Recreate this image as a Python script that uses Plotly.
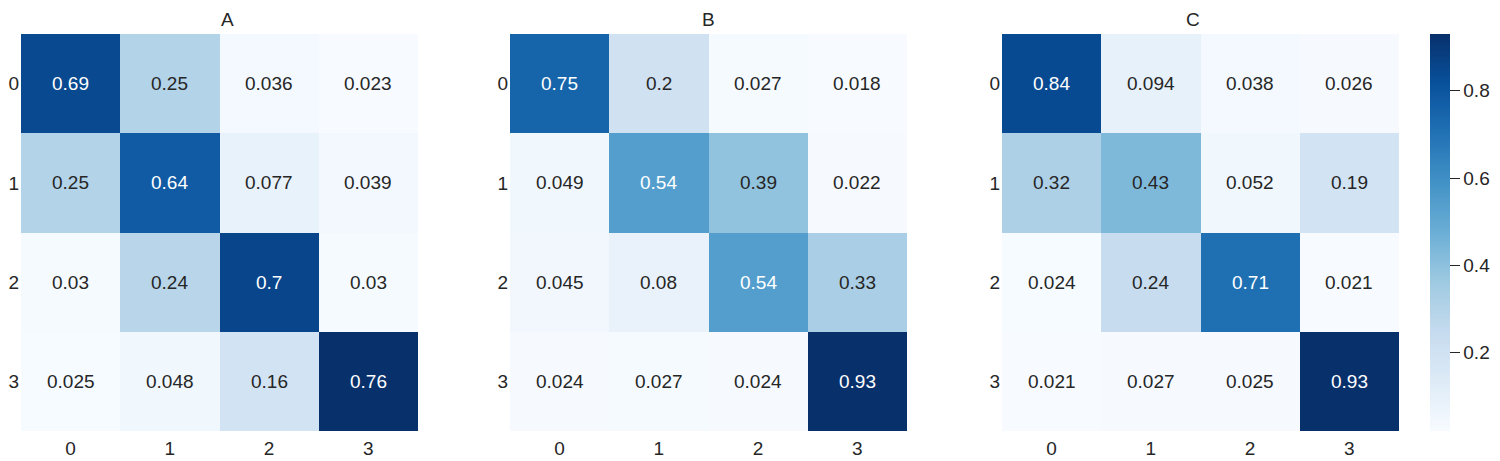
import plotly.graph_objects as go

# confusion-matrix style values, one 4x4 grid per panel
labels = ["0", "1", "2", "3"]
titles = ["A", "B", "C"]

values_a = [[0.69, 0.25, 0.036, 0.023],
            [0.25, 0.64, 0.077, 0.039],
            [0.03, 0.24, 0.7, 0.03],
            [0.025, 0.048, 0.16, 0.76]]
values_b = [[0.75, 0.2, 0.027, 0.018],
            [0.049, 0.54, 0.39, 0.022],
            [0.045, 0.08, 0.54, 0.33],
            [0.024, 0.027, 0.024, 0.93]]
values_c = [[0.84, 0.094, 0.038, 0.026],
            [0.32, 0.43, 0.052, 0.19],
            [0.024, 0.24, 0.71, 0.021],
            [0.021, 0.027, 0.025, 0.93]]
colorbar_ticks = [0.2, 0.4, 0.6, 0.8]

# matplotlib "Blues"
blues = ["#f7fbff", "#deebf7", "#c6dbef", "#9ecae1", "#6baed6",
         "#4292c6", "#2171b5", "#08519c", "#08306b"]
colorscale = [[i / (len(blues) - 1), c] for i, c in enumerate(blues)]

font_family = "Liberation Sans, Arial, sans-serif"
dark = "#262626"
# page body has an 8px margin, so the figure is shifted by that much
off = 8
W, H = 1500 - off, 461 - off
x_pix = [(21, 418), (510, 907), (1002, 1399)]
y_top, y_bot = 34, 431
y_dom = [1 - (y_bot - off) / H, 1 - (y_top - off) / H]

fig = go.Figure()
annotations = []
for i, (vals, title) in enumerate(zip([values_a, values_b, values_c], titles)):
    n = "" if i == 0 else str(i + 1)
    lo = min(min(r) for r in vals)
    hi = max(max(r) for r in vals)
    fig.add_trace(go.Heatmap(
        z=vals, x=labels, y=labels,
        colorscale=colorscale, zmin=lo, zmax=hi,
        showscale=(i == 2),
        colorbar=dict(x=(1430 - off) / W, xanchor="left", xpad=0, ypad=0,
                      y=y_dom[0], yanchor="bottom",
                      len=y_dom[1] - y_dom[0], thickness=20, outlinewidth=0,
                      tickvals=colorbar_ticks, ticks="outside", ticklen=10,
                      tickcolor=dark,
                      tickfont=dict(size=19, color=dark, family=font_family)),
        xaxis="x" + n, yaxis="y" + n, hoverinfo="z",
    ))
    for r, row in enumerate(vals):
        for c, v in enumerate(row):
            t = (v - lo) / (hi - lo)
            annotations.append(dict(
                x=labels[c], y=labels[r], xref="x" + n, yref="y" + n,
                text=f"{v:.2g}", showarrow=False,
                font=dict(size=19, family=font_family,
                          color="white" if t > 0.5 else dark)))
    x0, x1 = x_pix[i]
    annotations.append(dict(
        x=((x0 + x1) / 2 - off) / W, y=1, xref="paper", yref="paper",
        yanchor="top", borderpad=0, text=title, showarrow=False,
        font=dict(size=19, family=font_family, color=dark)))
    axis_common = dict(type="category", showgrid=False, zeroline=False,
                       showline=False, ticks="",
                       tickfont=dict(size=19, color=dark, family=font_family))
    fig.layout["xaxis" + n] = dict(domain=[(x0 - off) / W, (x1 - off) / W],
                                   anchor="y" + n, ticklabelstandoff=4,
                                   **axis_common)
    fig.layout["yaxis" + n] = dict(domain=y_dom, anchor="x" + n,
                                   autorange="reversed", ticklabelstandoff=1,
                                   **axis_common)

fig.update_layout(width=W, height=H, margin=dict(l=0, r=0, t=0, b=0),
                  template="none", plot_bgcolor="white", paper_bgcolor="white",
                  annotations=annotations,
                  font=dict(family=font_family, color=dark))

fig.write_html("out.html")
